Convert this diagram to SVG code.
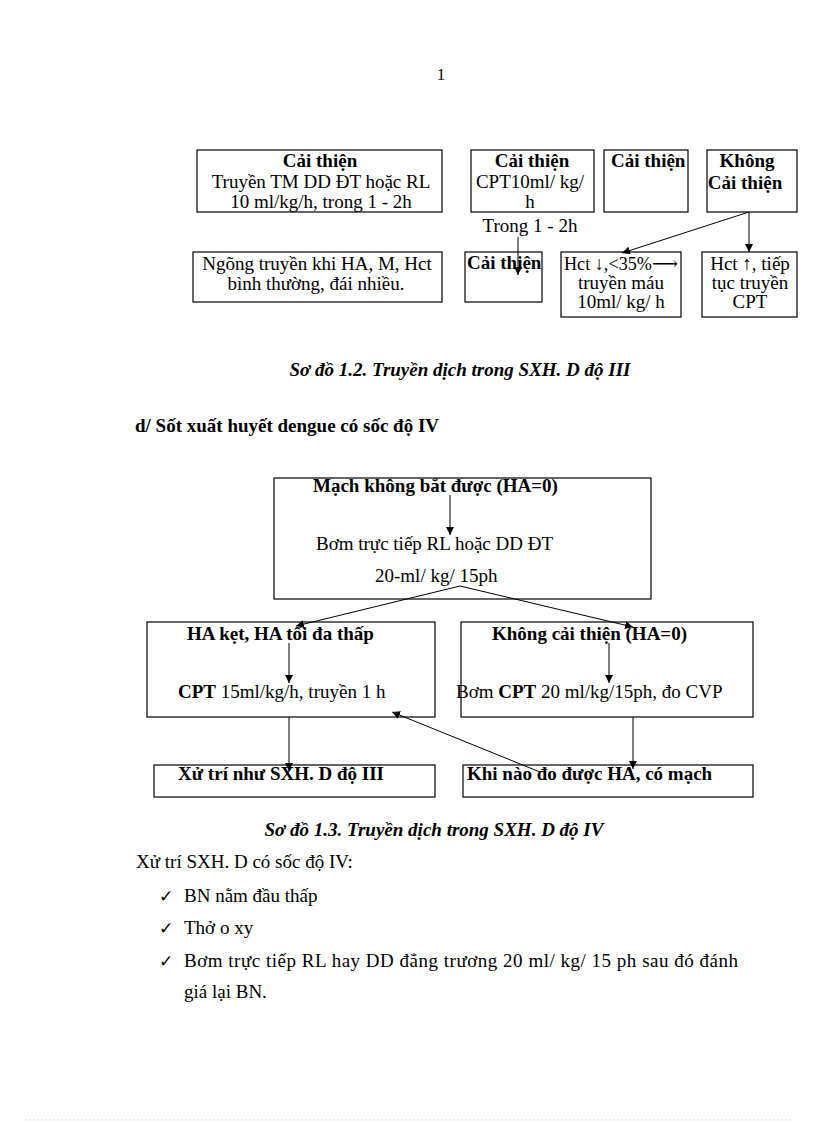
<svg xmlns="http://www.w3.org/2000/svg" width="816" height="1123" viewBox="0 0 816 1123">
<style>
text{font-family:"Liberation Serif","Times New Roman","DejaVu Serif",serif;font-size:19px;fill:#000}
.b{font-weight:bold}
.c{text-anchor:middle}
.cap{font-weight:bold;font-style:italic;font-size:19px}
.chk{font-family:"DejaVu Sans",sans-serif;font-size:17px}
rect{fill:#fff;stroke:#000;stroke-width:1.2}
.ln{stroke:#000;stroke-width:1;fill:none}
</style>
<defs>
<marker id="ah" viewBox="0 0 10 10" refX="10" refY="5" markerWidth="8" markerHeight="8" markerUnits="userSpaceOnUse" orient="auto">
<path d="M0,0 L10,5 L0,10 z" fill="#000"/>
</marker>
</defs>
<rect x="0" y="0" width="816" height="1123" style="fill:#fff;stroke:none"/>
<text x="441" y="80" class="c" style="font-size:17px">1</text>

<g id="a1"><rect x="197" y="150" width="245" height="62"/>
<text x="320" y="167" class="c b">Cải thiện</text>
<text x="321" y="188" class="c">Truyền TM DD ĐT hoặc RL</text>
<text x="321" y="208" class="c">10 ml/kg/h, trong 1 - 2h</text></g>

<g id="b1"><rect x="471" y="150" width="123" height="62"/>
<text x="532" y="167" class="c b">Cải thiện</text>
<text x="530" y="188" class="c">CPT10ml/ kg/</text>
<text x="530" y="208" class="c">h</text></g>
<text x="530" y="232" class="c">Trong 1 - 2h</text>

<g id="c1"><rect x="604" y="150" width="84" height="62"/>
<text x="611" y="167" class="b">Cải thiện</text></g>

<g id="d1"><rect x="707" y="150" width="90" height="62"/>
<text x="747" y="167" class="c b">Không</text>
<text x="745" y="189" class="c b">Cải thiện</text></g>

<g id="e1"><rect x="193" y="252" width="249" height="50"/>
<text x="317" y="270" class="c">Ngõng truyền khi HA, M, Hct</text>
<text x="316" y="290" class="c">bình thường, đái nhiều.</text></g>

<g id="f1"><rect x="465" y="252" width="77" height="50"/>
<text x="467" y="269" class="b">Cải thiện</text></g>

<g id="g1"><rect x="561" y="252" width="120" height="65"/>
<text x="564" y="270" textLength="114" lengthAdjust="spacingAndGlyphs">Hct ↓,&lt;35%⟶</text>
<text x="621" y="289" class="c">truyền máu</text>
<text x="621" y="308" class="c">10ml/ kg/ h</text></g>

<g id="h1"><rect x="702" y="252" width="95" height="65"/>
<text x="750" y="270" class="c">Hct ↑, tiếp</text>
<text x="750" y="289" class="c">tục truyền</text>
<text x="750" y="308" class="c">CPT</text></g>

<text x="460" y="376" class="c cap">Sơ đồ 1.2. Truyền dịch trong SXH. D độ III</text>
<text x="135" y="432" class="b">d/ Sốt xuất huyết dengue có sốc độ IV</text>

<g id="m2"><rect x="274" y="478" width="377" height="121"/>
<text x="313" y="492" class="b">Mạch không bắt được (HA=0)</text>
<text x="316" y="550">Bơm trực tiếp RL hoặc DD ĐT</text>
<text x="375" y="582">20-ml/ kg/ 15ph</text></g>

<g id="n2"><rect x="147" y="622" width="288" height="95"/>
<text x="187" y="640" class="b">HA kẹt, HA tối đa thấp</text>
<text x="178" y="698"><tspan class="b">CPT</tspan> 15ml/kg/h, truyền 1 h</text></g>

<g id="o2"><rect x="461" y="622" width="292" height="95"/>
<text x="492" y="640" class="b">Không cải thiện (HA=0)</text>
<text x="456" y="698">Bơm <tspan class="b">CPT</tspan> 20 ml/kg/15ph, đo CVP</text></g>

<g id="p2"><rect x="154" y="765" width="281" height="32"/>
<text x="178" y="780" class="b">Xử trí như SXH. D độ III</text></g>

<g id="q2"><rect x="463" y="765" width="290" height="32"/>
<text x="467" y="780" class="b">Khi nào đo được HA, có mạch</text></g>

<g id="connectors">
<line class="ln" x1="518" y1="237" x2="518" y2="275" marker-end="url(#ah)"/>
<line class="ln" x1="749" y1="212" x2="622" y2="253" marker-end="url(#ah)"/>
<line class="ln" x1="749" y1="212" x2="749" y2="252" marker-end="url(#ah)"/>
<line class="ln" x1="450" y1="495" x2="450" y2="535" marker-end="url(#ah)"/>
<line class="ln" x1="460" y1="586" x2="296" y2="626" marker-end="url(#ah)"/>
<line class="ln" x1="460" y1="586" x2="633" y2="627" marker-end="url(#ah)"/>
<line class="ln" x1="289" y1="643" x2="289" y2="683" marker-end="url(#ah)"/>
<line class="ln" x1="289" y1="717" x2="289" y2="771" marker-end="url(#ah)"/>
<line class="ln" x1="609" y1="643" x2="609" y2="683" marker-end="url(#ah)"/>
<line class="ln" x1="633" y1="717" x2="633" y2="769" marker-end="url(#ah)"/>
<line class="ln" x1="540" y1="772" x2="392" y2="712" marker-end="url(#ah)"/>
</g>

<text x="434" y="836" class="c cap">Sơ đồ 1.3. Truyền dịch trong SXH. D độ IV</text>
<text x="136" y="868">Xử trí SXH. D có sốc độ IV:</text>
<text x="159" y="902" class="chk">✓</text>
<text x="184" y="902">BN nằm đầu thấp</text>
<text x="159" y="934" class="chk">✓</text>
<text x="184" y="934">Thở o xy</text>
<text x="159" y="967" class="chk">✓</text>
<text x="184" y="967" textLength="554" lengthAdjust="spacing">Bơm trực tiếp RL hay DD đẳng trương 20 ml/ kg/ 15 ph sau đó đánh</text>
<text x="184" y="998">giá lại BN.</text>

<line x1="26" y1="1120" x2="791" y2="1120" stroke="#bbb" stroke-width="1" stroke-dasharray="1 3"/>
</svg>
